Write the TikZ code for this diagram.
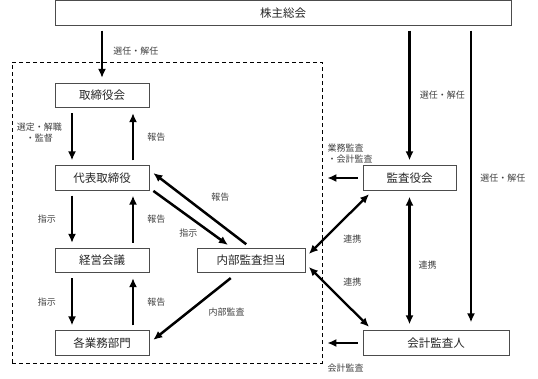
\documentclass[tikz,border=0pt]{standalone}
\usepackage{fontspec}
\setmainfont{Noto Sans CJK JP}
\usepackage{tikz}
\usetikzlibrary{positioning, arrows.meta}

\newcommand{\boxfont}{\fontsize{11.5}{13}\selectfont}
\newcommand{\lblfont}{\fontsize{9}{11}\selectfont}

\begin{document}
\begin{tikzpicture}[x=1pt, y=-1pt, node distance=82.5pt,
    box/.style={rectangle, draw=black!70, line width=0.7pt, minimum width=94pt, minimum height=24.5pt, inner sep=0pt, font=\boxfont, text=black!85},
    lbl/.style={font=\lblfont, text=black!75, inner sep=2pt},
    arr/.style={-{Latex[length=9pt,width=8pt]}, line width=2.5pt, shorten <=5pt, shorten >=5pt},
    darr/.style={{Latex[length=9pt,width=8pt]}-{Latex[length=9pt,width=8pt]}, line width=2.3pt, shorten <=5pt, shorten >=5pt}]
    \useasboundingbox (0,0) rectangle (538,378);

    % company boundary
    \node[draw, dash pattern=on 4pt off 3pt, line width=0.7pt, minimum width=310pt, minimum height=301pt, inner sep=0pt] (soshiki) at (167,212.5) {};

    \node[box, minimum width=456pt] (kabunushi) at (283,13) {株主総会};
    \node[box] (torikai) at (102,95.5) {取締役会};
    \node[box, below of=torikai] (daihyo) {代表取締役};
    \node[box, below of=daihyo] (keiei) {経営会議};
    \node[box, below of=keiei] (kakubumon) {各業務部門};
    \node[box, right of=keiei, node distance=149pt, minimum width=108pt] (naibu) {内部監査担当};
    \node[box, right of=daihyo, node distance=307.5pt, minimum width=93pt] (kansa) {監査役会};
    \node[box, right of=kakubumon, node distance=334pt, minimum width=146pt] (kaikei) {会計監査人};

    % left column
    \draw[arr] (kabunushi.south -| torikai.north) -- node[lbl, right, pos=0.45, xshift=8pt] {選任・解任} (torikai.north);
    \draw[arr] ([xshift=-30pt]torikai.south) -- node[lbl, left, align=center, pos=0.42, xshift=-7pt] {選定・解職\\・監督} ([xshift=-30pt]daihyo.north);
    \draw[arr] ([xshift=31pt]daihyo.north) -- node[lbl, right, xshift=11pt] {報告} ([xshift=31pt]torikai.south);
    \draw[arr] ([xshift=-30pt]daihyo.south) -- node[lbl, left, xshift=-13pt] {指示} ([xshift=-30pt]keiei.north);
    \draw[arr] ([xshift=31pt]keiei.north) -- node[lbl, right, xshift=11pt] {報告} ([xshift=31pt]daihyo.south);
    \draw[arr] ([xshift=-30pt]keiei.south) -- node[lbl, left, xshift=-13pt] {指示} ([xshift=-30pt]kakubumon.north);
    \draw[arr] ([xshift=31pt]kakubumon.north) -- node[lbl, right, xshift=11pt] {報告} ([xshift=31pt]keiei.south);

    % internal audit
    \draw[arr] ([yshift=-10pt]daihyo.east) -- node[lbl, pos=0.57, xshift=-8pt, yshift=-11pt] {指示} ([xshift=-19pt]naibu.north);
    \draw[arr, shorten <=6pt] (naibu.north) -- node[lbl, pos=0.43, xshift=13pt, yshift=17pt] {報告} ([yshift=8pt]daihyo.east);
    \draw[arr, shorten <=8pt] ([xshift=-14pt]naibu.south) -- node[lbl, pos=0.29, xshift=15pt, yshift=-19pt] {内部監査} (kakubumon.east);

    % auditors
    \draw[arr] (kabunushi.south -| kansa.north) -- node[lbl, right, xshift=7pt] {選任・解任} (kansa.north);
    \draw[arr, shorten >=8pt] ([xshift=35pt]kaikei.north |- kabunushi.south) -- node[lbl, right, xshift=6pt] {選任・解任} ([xshift=35pt]kaikei.north);
    \draw[arr] (kansa.west) -- node[lbl, pos=1, anchor=south west, align=left, xshift=2pt, yshift=12pt] {業務監査\\・会計監査} (kansa.west -| soshiki.east);
    \draw[arr] (kaikei.west) -- node[lbl, pos=1, anchor=north west, xshift=2pt, yshift=-18pt] {会計監査} (kaikei.west -| soshiki.east);

    \draw[darr] ([xshift=10pt]kansa.south west) -- node[lbl, pos=0.51, xshift=14pt, yshift=-14pt] {連携} ([yshift=3pt]naibu.east);
    \draw[darr] ([yshift=-3pt]naibu.east) -- node[lbl, pos=0.49, xshift=14pt, yshift=14pt] {連携} ([xshift=10pt]kaikei.north west);
    \draw[darr, shorten <=6pt, shorten >=6pt] (kansa.south) -- node[lbl, right, pos=0.53, xshift=6pt] {連携} (kansa.south |- kaikei.north);
\end{tikzpicture}
\end{document}
